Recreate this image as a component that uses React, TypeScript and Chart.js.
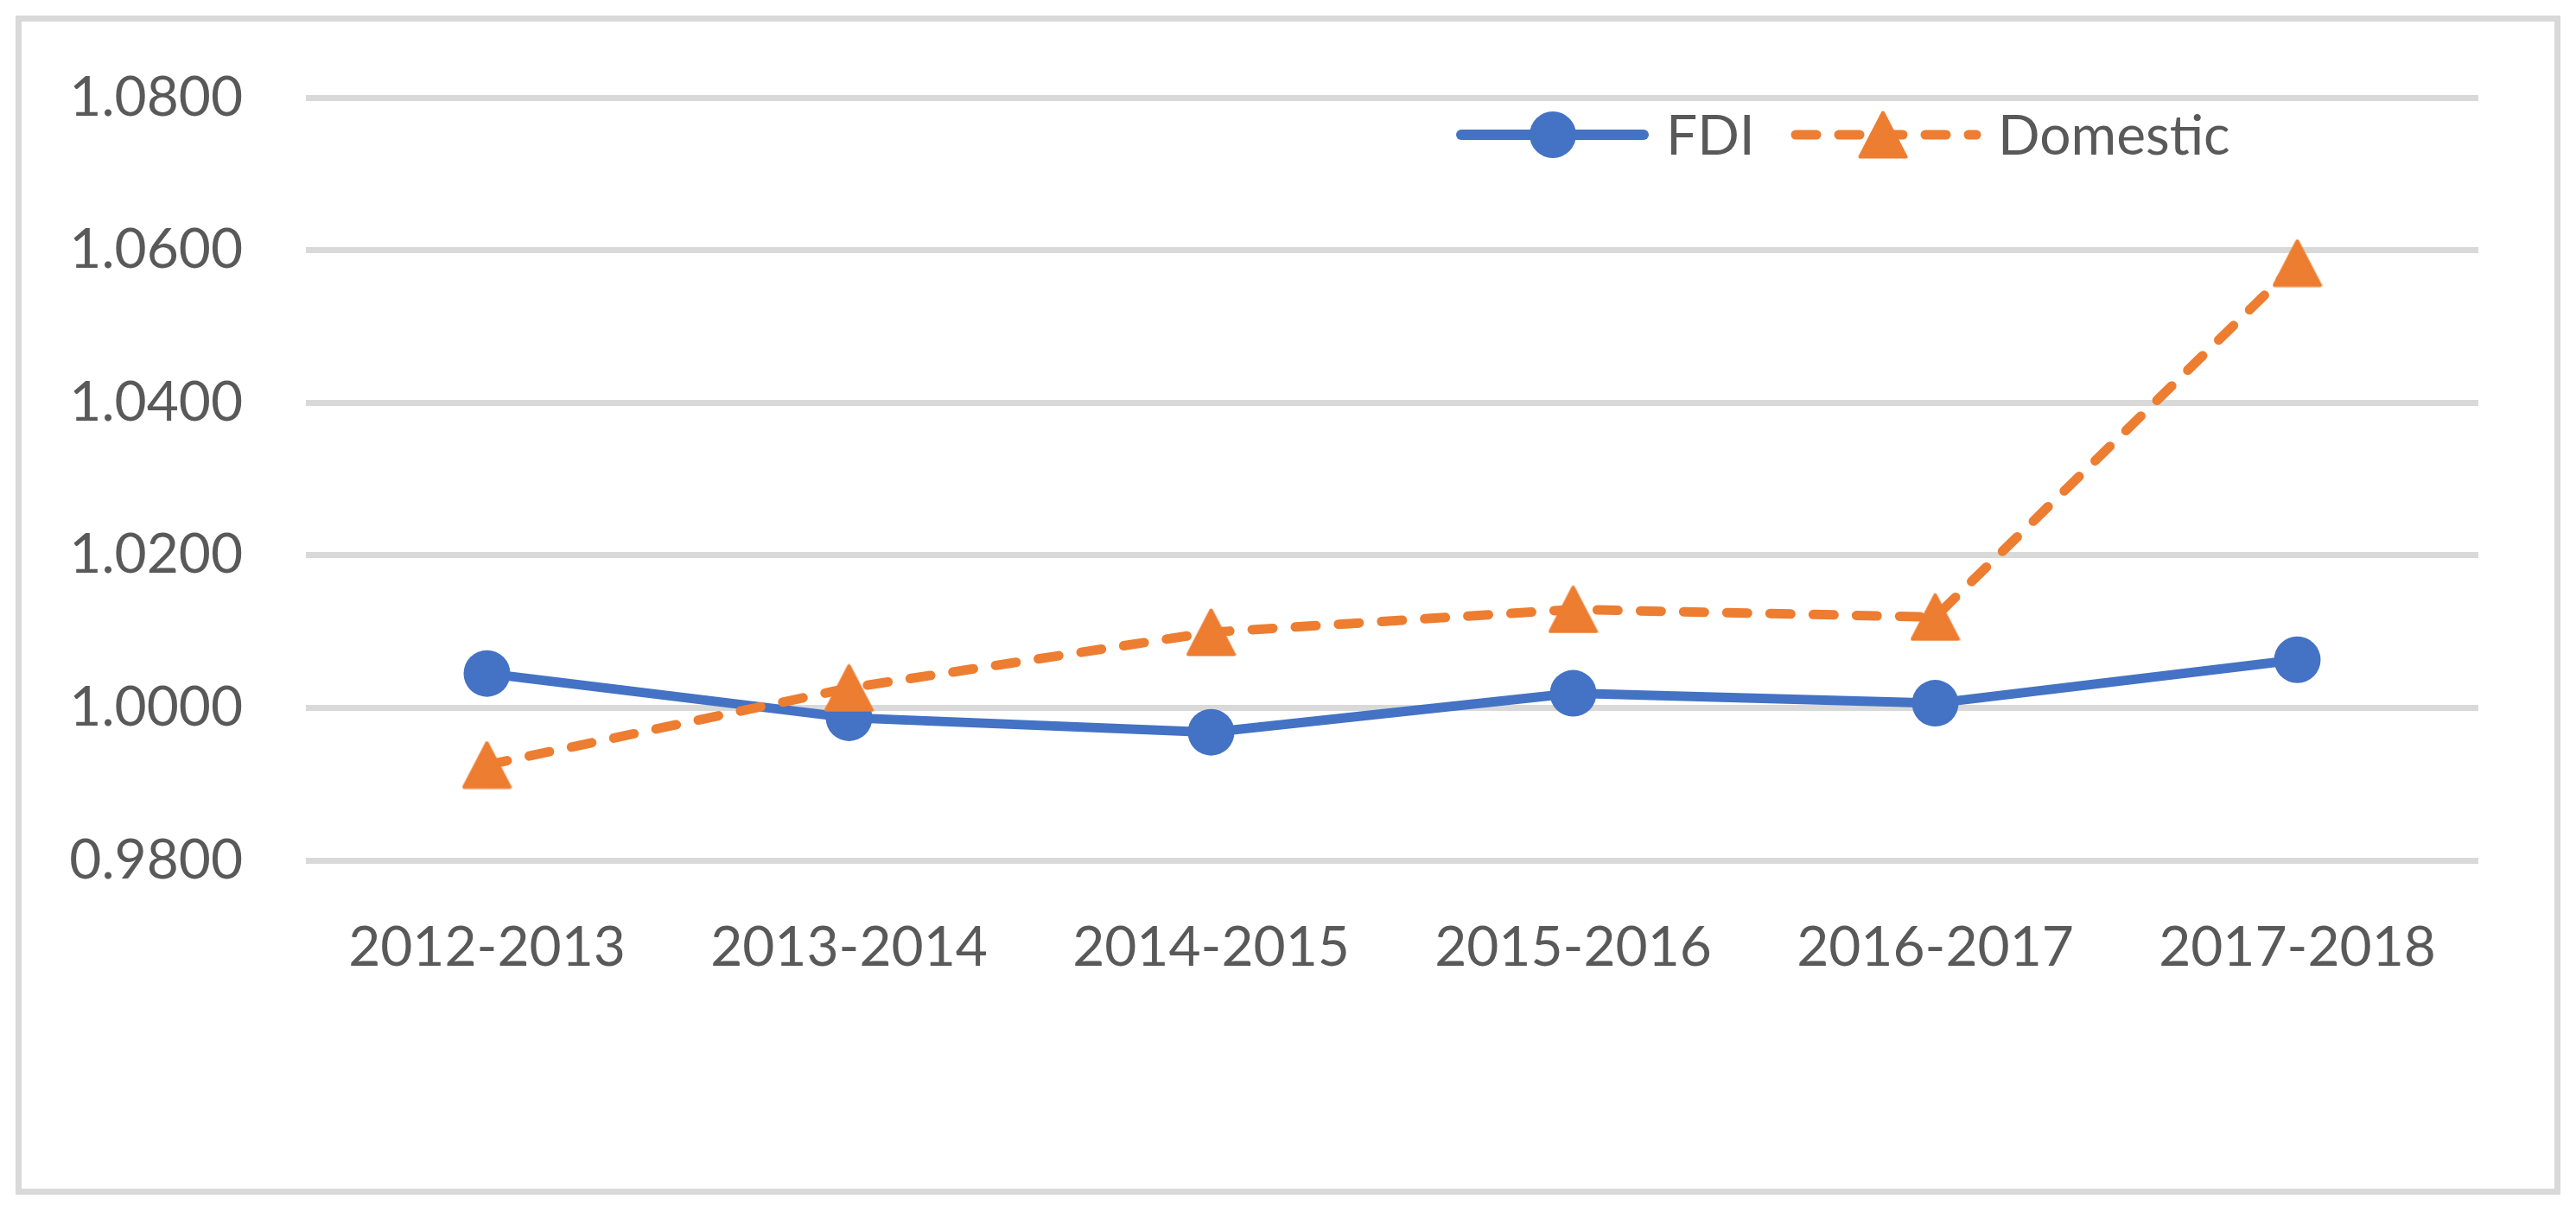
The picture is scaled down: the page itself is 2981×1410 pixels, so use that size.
import React, { useEffect, useRef } from 'react';
import { Chart, registerables } from 'chart.js';

Chart.register(...registerables);

const categories = ['2012-2013', '2013-2014', '2014-2015', '2015-2016', '2016-2017', '2017-2018'];
const fdiValues = [1.0045, 0.9987, 0.9968, 1.0019, 1.0006, 1.0063];
const domesticValues = [0.9925, 1.0026, 1.0099, 1.0129, 1.0119, 1.0583];
const seriesNames = ['FDI', 'Domestic'];
const yMin = 0.98;
const yMax = 1.08;
const yStep = 0.02;

const FDI_COLOR = '#4472C4';
const DOM_COLOR = '#ED7D31';
const TEXT_COLOR = '#595959';
const GRID_COLOR = '#d9d9d9';
const FONT = 'Lato';
const FONT_SIZE = 64;
const DASH = [24, 26];

function makeTriangle(color: string): HTMLCanvasElement {
  const c = document.createElement('canvas');
  c.width = 58;
  c.height = 56;
  const ctx = c.getContext('2d')!;
  ctx.fillStyle = color;
  ctx.strokeStyle = color;
  ctx.lineWidth = 4;
  ctx.lineJoin = 'round';
  ctx.beginPath();
  ctx.moveTo(29, 2.5);
  ctx.lineTo(55.5, 53.5);
  ctx.lineTo(2.5, 53.5);
  ctx.closePath();
  ctx.fill();
  ctx.stroke();
  return c;
}

const legendPlugin = {
  id: 'customLegend',
  afterDraw(chart: any) {
    const ctx = chart.ctx as CanvasRenderingContext2D;
    const y = 131;
    ctx.save();
    // FDI
    ctx.strokeStyle = FDI_COLOR;
    ctx.lineWidth = 12;
    ctx.lineCap = 'round';
    ctx.beginPath();
    ctx.moveTo(1666, y);
    ctx.lineTo(1877, y);
    ctx.stroke();
    ctx.fillStyle = FDI_COLOR;
    ctx.beginPath();
    ctx.arc(1772, y, 27, 0, Math.PI * 2);
    ctx.fill();
    ctx.fillStyle = TEXT_COLOR;
    ctx.font = `${FONT_SIZE}px ${FONT}`;
    ctx.textBaseline = 'middle';
    ctx.textAlign = 'left';
    ctx.fillText(seriesNames[0], 1903, y + 2);
    // Domestic
    ctx.strokeStyle = DOM_COLOR;
    ctx.lineWidth = 11;
    ctx.setLineDash(DASH);
    ctx.beginPath();
    ctx.moveTo(2053, y);
    ctx.lineTo(2262, y);
    ctx.stroke();
    ctx.setLineDash([]);
    const tri = makeTriangle(DOM_COLOR);
    ctx.drawImage(tri, 2154 - tri.width / 2, y - tri.height / 2);
    ctx.fillStyle = TEXT_COLOR;
    ctx.fillText(seriesNames[1], 2287, y + 2);
    ctx.restore();
  },
};

export default function App() {
  const ref = useRef<HTMLCanvasElement | null>(null);

  useEffect(() => {
    if (!ref.current) return;
    const triangle = makeTriangle(DOM_COLOR);
    const chart = new Chart(ref.current, {
      type: 'line',
      data: {
        labels: categories,
        datasets: [
          {
            label: seriesNames[0],
            data: fdiValues,
            borderColor: FDI_COLOR,
            backgroundColor: FDI_COLOR,
            borderWidth: 11,
            pointStyle: 'circle',
            pointRadius: 27,
            pointHoverRadius: 27,
            pointBorderWidth: 0,
            pointBackgroundColor: FDI_COLOR,
            tension: 0,
            order: 1,
          },
          {
            label: seriesNames[1],
            data: domesticValues,
            borderColor: DOM_COLOR,
            backgroundColor: DOM_COLOR,
            borderWidth: 11,
            borderDash: DASH,
            borderCapStyle: 'round',
            pointStyle: triangle as any,
            pointRadius: 28,
            pointHoverRadius: 28,
            pointBorderWidth: 0,
            pointBackgroundColor: DOM_COLOR,
            tension: 0,
            order: 0,
          },
        ],
      },
      options: {
        responsive: false,
        animation: false,
        devicePixelRatio: 1,
        layout: { padding: { top: 88, right: 88, bottom: 0, left: 0 } },
        plugins: {
          legend: { display: false },
          tooltip: { enabled: false },
        },
        scales: {
          x: {
            offset: true,
            grid: { display: false, drawTicks: false },
            border: { display: false },
            ticks: {
              color: TEXT_COLOR,
              font: { family: FONT, size: FONT_SIZE },
              padding: 63,
              maxRotation: 0,
              autoSkip: false,
            },
            afterFit: (scale: any) => {
              scale.height = 380;
              scale.paddingLeft = 0;
              scale.paddingRight = 0;
            },
          },
          y: {
            min: yMin,
            max: yMax,
            grid: { color: GRID_COLOR, lineWidth: 7, drawTicks: false },
            border: { display: false },
            ticks: {
              stepSize: yStep,
              color: TEXT_COLOR,
              font: { family: FONT, size: FONT_SIZE },
              padding: 73,
              callback: (v: any) => Number(v).toFixed(4),
            },
            afterFit: (scale: any) => {
              scale.width = 329;
              scale.paddingTop = 0;
              scale.paddingBottom = 0;
            },
          },
        },
      },
      plugins: [legendPlugin],
    });
    return () => chart.destroy();
  }, []);

  return (
    <div
      style={{
        position: 'absolute',
        left: 18,
        top: 18,
        width: 2945,
        height: 1365,
        border: `7px solid ${GRID_COLOR}`,
        boxSizing: 'border-box',
        background: '#fff',
      }}
    >
      <canvas ref={ref} width={2931} height={1351} style={{ display: 'block', width: 2931, height: 1351 }} />
    </div>
  );
}
